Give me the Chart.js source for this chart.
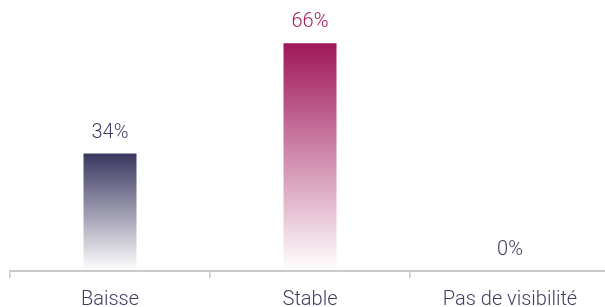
<!DOCTYPE html>
<html lang="fr">
<head>
    <meta charset="UTF-8">
    <title>Baisse / Stable / Pas de visibilité</title>
    <script src="https://cdn.jsdelivr.net/npm/chart.js"></script>
    <style>
        html, body {
            margin: 0;
            padding: 0;
            background: #ffffff;
            overflow: hidden;
        }
        /* wider than the window: the right end of the axis is cut off in the original */
        .chart-box {
            position: relative;
            width: 620px;
            height: 307px;
        }
    </style>
</head>
<body>
    <div class="chart-box">
        <canvas id="barChart"></canvas>
    </div>

    <script>
// Data
const categories = ["Baisse", "Stable", "Pas de visibilité"];
const shares = [34, 66, 0];
const valueLabels = ["34%", "66%", "0%"];

// Colours
const barColors = ["58, 55, 96", "160, 23, 90", "58, 55, 96"];
const labelColors = ["#3f3d63", "#a0175a", "#3f3d63"];
const textColor = "#3f3d63";
const axisColor = "#c9c9c9";
const fontFamily = "Roboto, 'Noto Sans', sans-serif";

// vertical fade for each bar, from its top down to the axis
function barGradient(context) {
    const chart = context.chart;
    const y = chart.scales && chart.scales.y;
    if (!chart.chartArea || !y) return "rgba(" + barColors[context.dataIndex] + ", 1)";
    const top = y.getPixelForValue(context.raw);
    const bottom = y.getPixelForValue(0);
    const g = chart.ctx.createLinearGradient(0, top, 0, bottom);
    const c = barColors[context.dataIndex];
    g.addColorStop(0, "rgba(" + c + ", 1)");
    g.addColorStop(1, "rgba(" + c + ", 0)");
    return g;
}

// values written above the bars
const valueLabelPlugin = {
    id: "valueLabels",
    afterDatasetsDraw(chart) {
        const ctx = chart.ctx;
        const meta = chart.getDatasetMeta(0);
        ctx.save();
        ctx.font = "300 20px " + fontFamily;
        ctx.textAlign = "center";
        ctx.textBaseline = "alphabetic";
        meta.data.forEach((bar, i) => {
            ctx.fillStyle = labelColors[i];
            ctx.fillText(valueLabels[i], bar.x, bar.y - 16);
        });
        ctx.restore();
    }
};

const ctx1 = document.getElementById("barChart").getContext("2d");
new Chart(ctx1, {
    type: "bar",
    data: {
        labels: categories,
        datasets: [{
            data: shares,
            backgroundColor: barGradient,
            borderWidth: 0,
            categoryPercentage: 1,
            barPercentage: 0.265
        }]
    },
    options: {
        responsive: true,
        maintainAspectRatio: false,
        animation: false,
        layout: { padding: { left: 10, right: 10, top: 0, bottom: -15 } },
        plugins: {
            legend: { display: false },
            tooltip: { enabled: false }
        },
        scales: {
            y: {
                display: false,
                min: 0,
                max: 78.5
            },
            x: {
                border: { display: true, color: axisColor, width: 2 },
                grid: {
                    offset: true,
                    drawOnChartArea: false,
                    drawTicks: true,
                    tickLength: 7,
                    color: axisColor,
                    lineWidth: 1.5
                },
                ticks: {
                    color: textColor,
                    padding: 12,
                    font: { family: fontFamily, size: 20, weight: 300, lineHeight: 1 }
                }
            }
        }
    },
    plugins: [valueLabelPlugin]
});
    </script>
</body>
</html>
